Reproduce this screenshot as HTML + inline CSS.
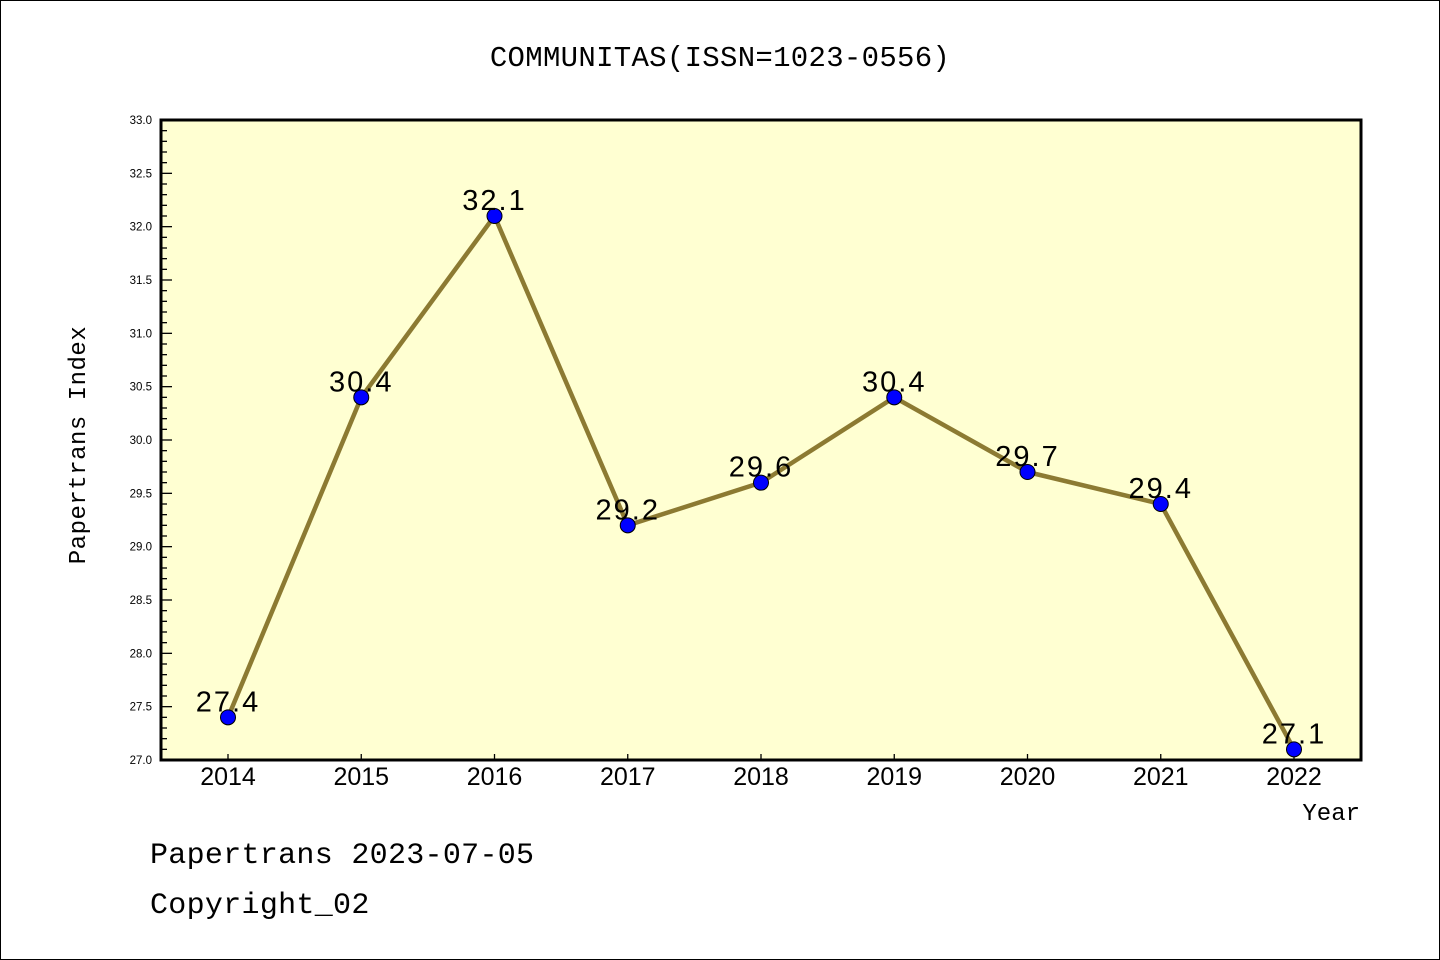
<!DOCTYPE html>
<html><head><meta charset="utf-8"><style>
html,body{margin:0;padding:0;background:#fff;}
svg{display:block;font-family:"Liberation Sans","DejaVu Sans",sans-serif;}
</style></head><body>
<svg id="chart" width="1440" height="960" viewBox="0 0 1440 960" xmlns="http://www.w3.org/2000/svg">
<rect x="0.5" y="0.5" width="1439" height="959" fill="#fff" stroke="#000" stroke-width="1"/>
<text x="720" y="66" text-anchor="middle" font-size="29" letter-spacing="0.3" font-family="Liberation Mono, DejaVu Sans Mono, monospace">COMMUNITAS(ISSN=1023-0556)</text>
<rect x="161" y="120" width="1200" height="640" fill="#ffffd2"/>
<g id="ticks"></g>
<g id="series"></g>
<rect x="161" y="120" width="1200" height="640" fill="none" stroke="#000" stroke-width="3"/>
<text transform="translate(85,445) rotate(-90)" text-anchor="middle" font-size="24" letter-spacing="0.5" font-family="Liberation Mono, DejaVu Sans Mono, monospace">Papertrans Index</text>
<text x="1360" y="820" text-anchor="end" font-size="24" font-family="Liberation Mono, DejaVu Sans Mono, monospace">Year</text>
<text x="150" y="863" font-size="30" letter-spacing="0.3" font-family="Liberation Mono, DejaVu Sans Mono, monospace">Papertrans 2023-07-05</text>
<text x="150" y="913" font-size="30" letter-spacing="0.3" font-family="Liberation Mono, DejaVu Sans Mono, monospace">Copyright_02</text>
</svg>
<script>
const years = ["2014","2015","2016","2017","2018","2019","2020","2021","2022"];
const values = [27.4, 30.4, 32.1, 29.2, 29.6, 30.4, 29.7, 29.4, 27.1];
const valueLabels = ["27.4","30.4","32.1","29.2","29.6","30.4","29.7","29.4","27.1"];
const yTickLabels = ["27.0","27.5","28.0","28.5","29.0","29.5","30.0","30.5","31.0","31.5","32.0","32.5","33.0"];
const yMin = 27, yMax = 33;
const NS = "http://www.w3.org/2000/svg";
const L=161, R=1361, T=120, B=760;
function yS(v){return B-(v-yMin)/(yMax-yMin)*(B-T);}
function xS(i){return 228+i*(1294-228)/(years.length-1);}
function mk(tag, attrs, parent){const e=document.createElementNS(NS,tag);for(const k in attrs)e.setAttribute(k,attrs[k]);parent.appendChild(e);return e;}
const tg=document.getElementById('ticks');
for(let k=0;k<=60;k++){
  const v=yMin+k*0.1, y=yS(v), major=k%5===0;
  const t=mk('line',{x1:L,x2:L+(major?11:6),y1:y,y2:y,stroke:'#000','stroke-width':1.3},tg);
  
  
}
yTickLabels.forEach(s=>{
  const t=mk('text',{x:152,y:yS(parseFloat(s))+4,'text-anchor':'end','font-size':11.5},tg);
  t.textContent=s;
  
  
});
years.forEach((yr,i)=>{
  const x=xS(i);
  const t=mk('line',{x1:x,x2:x,y1:B,y2:B-6,stroke:'#000','stroke-width':1.3},tg);
  
  
  const lb=mk('text',{x:x,y:785,'text-anchor':'middle','font-size':25},tg);
  lb.textContent=yr;
  
  
});
const sg=document.getElementById('series');
const line=mk('polyline',{points:values.map((v,i)=>xS(i)+','+yS(v)).join(' '),fill:'none',stroke:'#8c7a32','stroke-width':4.5,'stroke-linejoin':'round'},sg);


values.forEach((v,i)=>{
  const c=mk('circle',{cx:xS(i),cy:yS(v),r:7.5,fill:'#0000ff',stroke:'#000','stroke-width':1},sg);
  
  
  const t=mk('text',{x:xS(i),y:yS(v)-6,'text-anchor':'middle','font-size':29,'letter-spacing':2,'font-family':'Liberation Sans, sans-serif'},sg);
  t.textContent=valueLabels[i];
  
  
});
</script>
</body></html>
